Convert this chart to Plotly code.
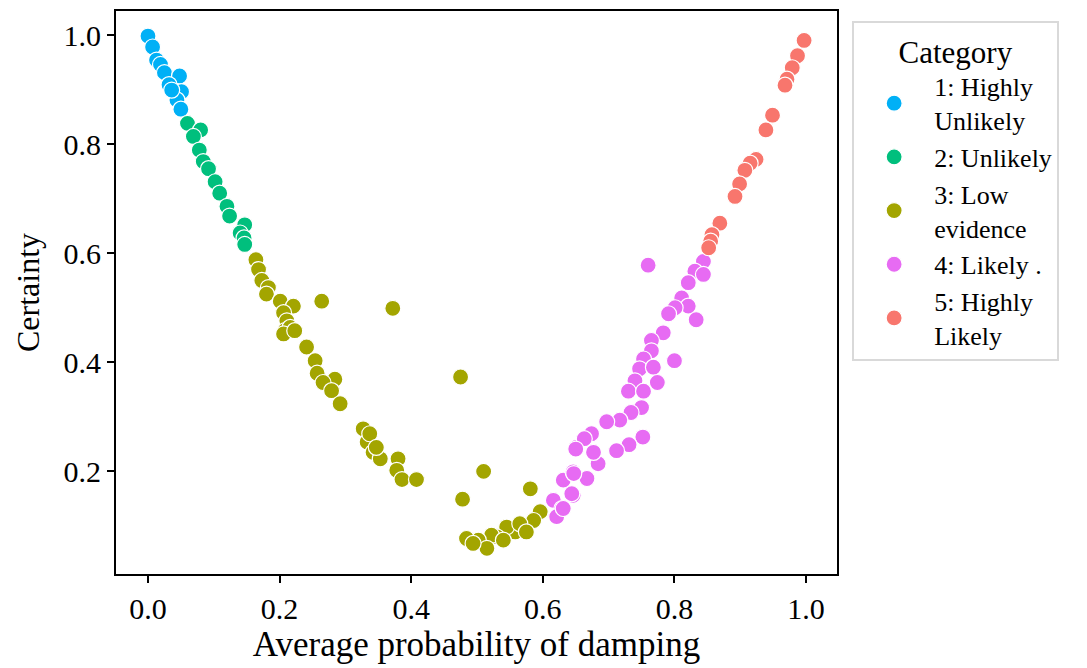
import plotly.graph_objects as go

# Average probability of damping (x) and certainty (y) per category
cat1_x = [0.000, 0.007, 0.013, 0.019, 0.025, 0.048, 0.032, 0.051, 0.044, 0.050, 0.036]
cat1_y = [0.998, 0.978, 0.954, 0.946, 0.931, 0.925, 0.909, 0.896, 0.881, 0.864, 0.899]

cat2_x = [0.060, 0.080, 0.069, 0.078, 0.084, 0.092, 0.102, 0.109, 0.120, 0.124,
          0.147, 0.140, 0.146, 0.147]
cat2_y = [0.838, 0.826, 0.814, 0.789, 0.768, 0.755, 0.731, 0.710, 0.686, 0.668,
          0.652, 0.637, 0.628, 0.616]

cat3_x = [0.164, 0.168, 0.173, 0.183, 0.180, 0.201, 0.221, 0.206, 0.211, 0.208,
          0.216, 0.206, 0.264, 0.372, 0.223, 0.241, 0.254, 0.257, 0.284, 0.266,
          0.279, 0.292, 0.327, 0.333, 0.342, 0.353, 0.380, 0.378, 0.386, 0.408,
          0.337, 0.347, 0.475, 0.510, 0.478, 0.581, 0.596, 0.586, 0.558, 0.545,
          0.565, 0.575, 0.530, 0.522, 0.502, 0.484, 0.515, 0.494, 0.540]
cat3_y = [0.588, 0.570, 0.550, 0.537, 0.525, 0.512, 0.503, 0.491, 0.476, 0.458,
          0.464, 0.452, 0.512, 0.499, 0.458, 0.428, 0.403, 0.380, 0.369, 0.363,
          0.348, 0.324, 0.278, 0.254, 0.235, 0.223, 0.223, 0.202, 0.185, 0.185,
          0.269, 0.244, 0.373, 0.200, 0.149, 0.168, 0.126, 0.110, 0.089, 0.098,
          0.104, 0.089, 0.080, 0.083, 0.074, 0.077, 0.059, 0.068, 0.074]

cat4_x = [0.616, 0.629, 0.646, 0.631, 0.646, 0.651, 0.621, 0.760, 0.844, 0.831,
          0.844, 0.821, 0.811, 0.821, 0.801, 0.791, 0.833, 0.783, 0.765, 0.765,
          0.800, 0.753, 0.747, 0.768, 0.774, 0.740, 0.730, 0.753, 0.750, 0.734,
          0.717, 0.697, 0.752, 0.731, 0.712, 0.674, 0.663, 0.650, 0.684, 0.667,
          0.647, 0.644, 0.631, 0.677]
cat4_y = [0.147, 0.132, 0.156, 0.184, 0.199, 0.244, 0.117, 0.578, 0.585, 0.567,
          0.561, 0.546, 0.518, 0.503, 0.500, 0.489, 0.478, 0.454, 0.440, 0.421,
          0.403, 0.406, 0.388, 0.391, 0.363, 0.366, 0.347, 0.347, 0.317, 0.308,
          0.294, 0.291, 0.263, 0.249, 0.238, 0.269, 0.260, 0.241, 0.214, 0.187,
          0.196, 0.159, 0.132, 0.235]

cat5_x = [0.997, 0.987, 0.979, 0.971, 0.968, 0.949, 0.939, 0.924, 0.915, 0.907,
          0.899, 0.892, 0.869, 0.857, 0.855, 0.852]
cat5_y = [0.990, 0.962, 0.940, 0.919, 0.908, 0.853, 0.826, 0.772, 0.765, 0.752,
          0.727, 0.704, 0.655, 0.634, 0.622, 0.610]

category_names = ["1: Highly<br>Unlikely", "2: Unlikely", "3: Low<br>evidence",
                  "4: Likely .", "5: Highly<br>Likely"]
category_colors = ["#00B0F6", "#00BF7D", "#A3A500", "#E76BF3", "#F8766D"]

xs = [cat1_x, cat2_x, cat3_x, cat4_x, cat5_x]
ys = [cat1_y, cat2_y, cat3_y, cat4_y, cat5_y]

FONT = "Liberation Serif"

fig = go.Figure()
for name, color, x, y in zip(category_names, category_colors, xs, ys):
    fig.add_trace(go.Scatter(
        x=x, y=y, mode="markers", name=name,
        marker=dict(color=color, size=16, line=dict(color="white", width=1.2)),
    ))

axis_common = dict(
    showline=True, linecolor="black", linewidth=2, mirror=True,
    ticks="outside", ticklen=7, tickwidth=1.5, tickcolor="black",
    showgrid=False, zeroline=False, tickformat=".1f",
    tickfont=dict(family=FONT, size=30, color="black"),
)

fig.update_layout(
    width=1087, height=668,
    margin=dict(l=116, r=250, t=9, b=94),
    paper_bgcolor="white", plot_bgcolor="white",
    font=dict(family=FONT, size=30, color="black"),
    xaxis=dict(range=[-0.0486, 1.047], tickvals=[0, 0.2, 0.4, 0.6, 0.8, 1.0],
               title=dict(text="Average probability of damping",
                          font=dict(family=FONT, size=35), standoff=7),
               **axis_common),
    yaxis=dict(range=[0.0119, 1.044], tickvals=[0.2, 0.4, 0.6, 0.8, 1.0],
               title=dict(text="Certainty", font=dict(family=FONT, size=32),
                          standoff=14),
               **axis_common),
    legend=dict(
        x=1.021, y=0.983, xanchor="left", yanchor="top",
        title=dict(text="Category", side="top center",
                   font=dict(family=FONT, size=31)),
        font=dict(family=FONT, size=26),
        bordercolor="#d9d9d9", borderwidth=2, bgcolor="white",
        tracegroupgap=0, itemsizing="trace", itemwidth=70,
    ),
)

fig.write_html("out.html")
